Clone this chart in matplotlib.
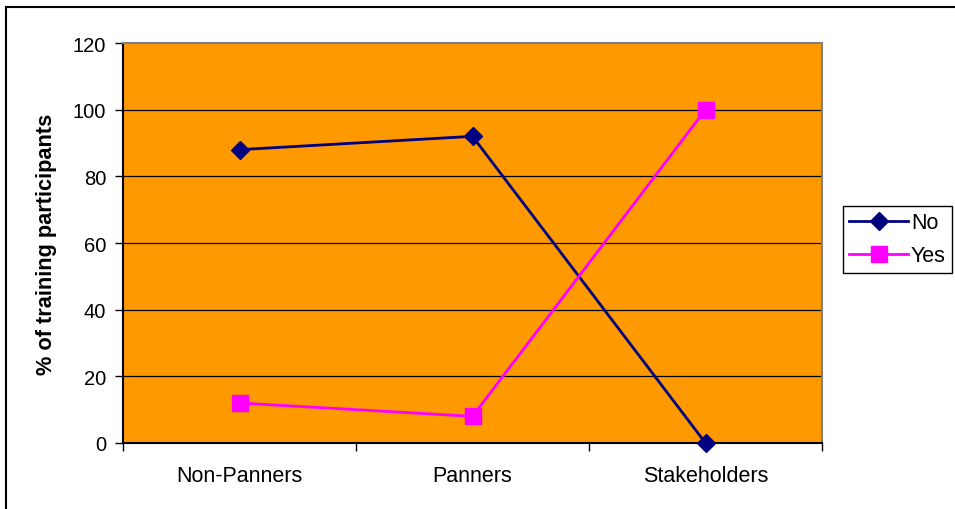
import matplotlib.pyplot as plt
from matplotlib.patches import Rectangle

plt.rcParams['font.family'] = ['Liberation Sans', 'DejaVu Sans']

# survey answers per group, percent of participants
groups = ['Non-Panners', 'Panners', 'Stakeholders']
no_pct = [88, 92, 0]
yes_pct = [12, 8, 100]
y_ticks = [0, 20, 40, 60, 80, 100, 120]

W, H = 955, 510
fig = plt.figure(figsize=(W / 100, H / 100), dpi=100)
ax = fig.add_axes([123 / W, (H - 444) / H, (822 - 123) / W, (444 - 44) / H])
ax.set_facecolor('#FF9900')

x = list(range(len(groups)))
ax.plot(x, no_pct, color='#000080', lw=2, marker='D', ms=9.5,
        label='No', zorder=3, clip_on=False)
ax.plot(x, yes_pct, color='#FF00FF', lw=2, marker='s', ms=11,
        label='Yes', zorder=3, clip_on=False)

ax.set_xlim(-0.5, len(groups) - 0.5)
ax.set_ylim(0, 120)
ax.set_yticks(y_ticks)
ax.set_xticks(x)
ax.set_xticklabels(groups)
ax.set_xticks([-0.5, 0.5, 1.5, 2.5], minor=True)

for v in y_ticks[1:-1]:
    ax.axhline(v, color='black', lw=0.9, zorder=1)

ax.tick_params(axis='y', length=6, width=1, pad=6, labelsize=14.5)
ax.tick_params(axis='x', which='major', length=0, pad=16, labelsize=15.5)
ax.tick_params(axis='x', which='minor', length=6, width=1)

ax.spines['left'].set_color('black')
ax.spines['bottom'].set_color('black')
ax.spines['top'].set_color('#808080')
ax.spines['right'].set_color('#808080')
for s in ax.spines.values():
    s.set_linewidth(1.5)

ax.set_ylabel('% of training participants', fontsize=15.7, fontweight='bold')
ax.yaxis.set_label_coords((57 - 123) / (822 - 123), 0.5)

leg = fig.legend(loc='upper left', bbox_to_anchor=(843 / W, 1 - 207 / H),
                 borderaxespad=0, fancybox=False, edgecolor='black',
                 fontsize=15.5, handlelength=2.7, handletextpad=0.15,
                 labelspacing=0.55, borderpad=0.3, framealpha=1)
leg.get_frame().set_linewidth(1.0)

# chart frame, running off the right and bottom edges
fig.patches.append(Rectangle((6 / W, -0.1), 1.2, 1.1 - 8 / H,
                             transform=fig.transFigure, fill=False,
                             edgecolor='black', lw=1.5))

fig.savefig('out.png', dpi=100)
